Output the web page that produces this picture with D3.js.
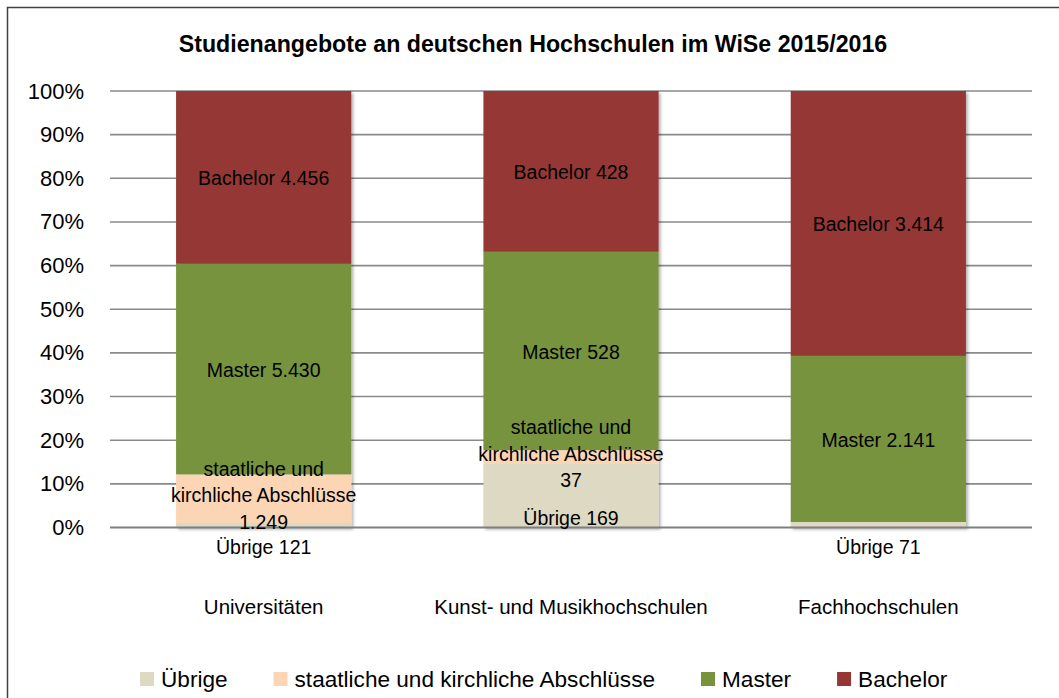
<!DOCTYPE html>
<html>
<head>
<meta charset="utf-8">
<script src="https://cdn.jsdelivr.net/npm/d3@7"></script>
<style>
  body { margin: 0; background: #fff; }
  svg { display: block; }
</style>
</head>
<body>
<svg id="chart" width="1059" height="698"></svg>
<script>
// ---------- data ----------
const chartTitle = "Studienangebote an deutschen Hochschulen im WiSe 2015/2016";
const categories = ["Universitäten", "Kunst- und Musikhochschulen", "Fachhochschulen"];
const seriesNames = ["Übrige", "staatliche und kirchliche Abschlüsse", "Master", "Bachelor"];
const uebrige   = [121, 169, 71];
const staatlich = [1249, 37, 0];
const master    = [5430, 528, 2141];
const bachelor  = [4456, 428, 3414];
const yTickValues = [0, 0.1, 0.2, 0.3, 0.4, 0.5, 0.6, 0.7, 0.8, 0.9, 1.0];

// ---------- style / layout ----------
const colors = ["#DDD9C3", "#FCD5B5", "#77933C", "#953735"];
const labelDy = [22, -3, 1, 1];          // label nudge per series (px)
const labelLines = [null, ["staatliche und", "kirchliche Abschlüsse"], null, null];
const plot = { left: 110, right: 1032, top: 91, bottom: 527.5 };

// pick a condensed face if present, else regular
function hasFont(name) {
  const c = document.createElement("canvas").getContext("2d");
  const s = "Bachelor Abschlüsse 0123456789 WiSe";
  c.font = "40px monospace"; const a = c.measureText(s).width;
  c.font = `40px "${name}", monospace`; const b = c.measureText(s).width;
  return Math.abs(a - b) > 0.5;
}
const narrow = hasFont("Liberation Sans Narrow");
const FONT = narrow ? '"Liberation Sans Narrow", "Liberation Sans", Arial, sans-serif'
                    : '"Liberation Sans", Arial, sans-serif';
const k = narrow ? 1.2 : 1.0;
const fs = { title: 23.2 * k, tick: 22 * k, cat: 20.5 * k, label: 19.5 * k, legend: 22.6 * k };

const de = d3.formatLocale({ decimal: ",", thousands: ".", grouping: [3], currency: ["", " €"] });
const fmtNum = de.format(",d");

const svg = d3.select("#chart").style("font-family", FONT);

// shadow filter
const defs = svg.append("defs");
const f = defs.append("filter").attr("id", "shadow").attr("x", "-10%").attr("y", "-10%").attr("width", "130%").attr("height", "130%");
f.append("feDropShadow").attr("dx", 2).attr("dy", 2).attr("stdDeviation", 1.6)
  .attr("flood-color", "#000").attr("flood-opacity", 0.3);

// frame
svg.append("rect").attr("x", 7.5).attr("y", 7.5).attr("width", 1200).attr("height", 1000)
  .attr("fill", "none").attr("stroke", "#404040").attr("stroke-width", 1.5);

// title
svg.append("text").attr("x", 533).attr("y", 44).attr("dy", "0.35em")
  .attr("text-anchor", "middle").attr("font-weight", "bold").attr("font-size", fs.title)
  .attr("fill", "#000").text(chartTitle);

// table
const seriesArrays = [uebrige, staatlich, master, bachelor];
const table = categories.map((c, i) => {
  const row = { cat: c };
  seriesNames.forEach((s, j) => row[s] = seriesArrays[j][i]);
  return row;
});
const stacked = d3.stack().keys(seriesNames).offset(d3.stackOffsetExpand)(table);

const x = d3.scaleBand().domain(categories).range([plot.left, plot.right])
  .paddingInner(0.43).paddingOuter(0.215);
const y = d3.scaleLinear().domain([0, 1]).range([plot.bottom, plot.top]);

// gridlines
svg.append("g").selectAll("line").data(yTickValues.filter(d => d > 0)).join("line")
  .attr("x1", plot.left).attr("x2", plot.right)
  .attr("y1", d => y(d)).attr("y2", d => y(d))
  .attr("stroke", "#8a8a8a").attr("stroke-width", 1.6);

// y axis
const yAxis = svg.append("g").attr("transform", `translate(${plot.left},0)`)
  .call(d3.axisLeft(y).tickValues(yTickValues).tickFormat(d3.format(".0%")).tickSize(0).tickPadding(26));
yAxis.select(".domain").remove();
yAxis.selectAll("text").attr("font-size", fs.tick).attr("fill", "#000").attr("font-family", FONT);

// bars (one group per category, shadow on whole bar)
const barG = svg.append("g");
categories.forEach((c, i) => {
  const g = barG.append("g").attr("filter", "url(#shadow)");
  stacked.forEach((layer, j) => {
    const d = layer[i];
    if (d[1] - d[0] <= 0) return;
    g.append("rect")
      .attr("x", x(c)).attr("width", x.bandwidth())
      .attr("y", y(d[1])).attr("height", y(d[0]) - y(d[1]))
      .attr("fill", colors[j]);
  });
});

// baseline
svg.append("line").attr("x1", plot.left).attr("x2", plot.right)
  .attr("y1", y(0)).attr("y2", y(0)).attr("stroke", "#7f7f7f").attr("stroke-width", 2);

// x axis
const xAxis = svg.append("g").attr("transform", `translate(0,${y(0)})`)
  .call(d3.axisBottom(x).tickSize(0).tickPadding(72));
xAxis.select(".domain").remove();
xAxis.selectAll("text").attr("font-size", fs.cat).attr("fill", "#000").attr("font-family", FONT)
  .attr("dy", "0.35em").attr("y", 79.5);

// data labels
const lblG = svg.append("g").attr("font-size", fs.label).attr("fill", "#000").attr("text-anchor", "middle");
const lineH = 26.5;
stacked.forEach((layer, j) => {
  layer.forEach((d, i) => {
    const v = seriesArrays[j][i];
    if (!v) return;
    const cx = x(categories[i]) + x.bandwidth() / 2;
    const cy = (y(d[0]) + y(d[1])) / 2 + labelDy[j];
    const lines = labelLines[j] ? [...labelLines[j], fmtNum(v)] : [seriesNames[j] + " " + fmtNum(v)];
    const t = lblG.append("text").attr("x", cx).attr("y", cy - (lines.length - 1) * lineH / 2);
    lines.forEach((ln, n) => {
      t.append("tspan").attr("x", cx).attr("dy", n === 0 ? "0.35em" : lineH).text(ln);
    });
  });
});

// legend
const leg = svg.append("g").attr("font-size", fs.legend).attr("fill", "#000");
let lx = 140;
const legY = 679;
seriesNames.forEach((s, j) => {
  leg.append("rect").attr("x", lx).attr("y", legY - 7).attr("width", 14).attr("height", 14).attr("fill", colors[j]);
  const t = leg.append("text").attr("x", lx + 21).attr("y", legY).attr("dy", "0.35em").text(s);
  lx = lx + 21 + t.node().getComputedTextLength() + 46;
});
</script>
</body>
</html>
